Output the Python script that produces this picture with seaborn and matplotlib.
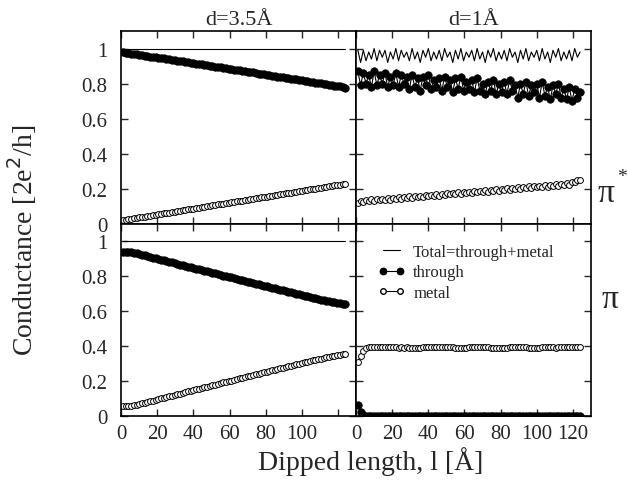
import numpy as np
import pandas as pd
import matplotlib
matplotlib.use("Agg")
import matplotlib.pyplot as plt
from matplotlib.lines import Line2D
import seaborn as sns

# dipped length grid (Angstrom)
x = np.arange(1.0, 124.5, 1.5)

# ---- d = 3.5 A, pi* ----
tl_total = [1.0] * len(x)
tl_through = [0.979, 0.975, 0.972, 0.970, 0.969, 0.966, 0.964, 0.962, 0.959, 0.957,
              0.954, 0.952, 0.950, 0.947, 0.945, 0.943, 0.940, 0.938, 0.935, 0.933,
              0.930, 0.928, 0.926, 0.924, 0.921, 0.919, 0.916, 0.914, 0.912, 0.909,
              0.906, 0.904, 0.902, 0.900, 0.897, 0.894, 0.892, 0.890, 0.887, 0.885,
              0.882, 0.880, 0.878, 0.875, 0.872, 0.870, 0.867, 0.865, 0.863, 0.860,
              0.857, 0.855, 0.853, 0.850, 0.848, 0.845, 0.843, 0.840, 0.838, 0.835,
              0.833, 0.830, 0.828, 0.826, 0.823, 0.820, 0.818, 0.815, 0.813, 0.811,
              0.808, 0.805, 0.803, 0.801, 0.798, 0.795, 0.793, 0.790, 0.788, 0.786,
              0.783, 0.780, 0.777]
tl_metal = [0.020, 0.023, 0.025, 0.028, 0.030, 0.033, 0.035, 0.038, 0.040, 0.043,
            0.045, 0.048, 0.050, 0.053, 0.056, 0.058, 0.061, 0.063, 0.066, 0.068,
            0.071, 0.073, 0.076, 0.078, 0.081, 0.083, 0.086, 0.088, 0.091, 0.094,
            0.096, 0.099, 0.101, 0.104, 0.106, 0.109, 0.111, 0.114, 0.116, 0.119,
            0.121, 0.124, 0.126, 0.129, 0.131, 0.134, 0.137, 0.139, 0.142, 0.144,
            0.147, 0.149, 0.152, 0.154, 0.157, 0.159, 0.162, 0.164, 0.167, 0.169,
            0.172, 0.175, 0.177, 0.180, 0.182, 0.185, 0.187, 0.190, 0.192, 0.195,
            0.197, 0.200, 0.202, 0.205, 0.207, 0.210, 0.212, 0.215, 0.218, 0.220,
            0.222, 0.225, 0.227]

# ---- d = 3.5 A, pi ----
bl_total = [1.0] * len(x)
bl_through = [0.940, 0.939, 0.938, 0.936, 0.933, 0.930, 0.926, 0.922, 0.918, 0.914,
              0.910, 0.906, 0.902, 0.898, 0.894, 0.890, 0.886, 0.882, 0.878, 0.874,
              0.870, 0.866, 0.862, 0.858, 0.854, 0.850, 0.847, 0.843, 0.839, 0.835,
              0.831, 0.827, 0.823, 0.819, 0.815, 0.811, 0.807, 0.803, 0.799, 0.795,
              0.792, 0.788, 0.784, 0.780, 0.776, 0.772, 0.768, 0.765, 0.761, 0.757,
              0.753, 0.749, 0.745, 0.742, 0.738, 0.734, 0.730, 0.726, 0.722, 0.718,
              0.715, 0.711, 0.707, 0.703, 0.700, 0.696, 0.692, 0.688, 0.685, 0.681,
              0.677, 0.673, 0.669, 0.666, 0.662, 0.659, 0.656, 0.653, 0.650, 0.648,
              0.646, 0.643, 0.640]
bl_metal = [0.055, 0.056, 0.057, 0.059, 0.062, 0.065, 0.069, 0.073, 0.077, 0.081,
            0.085, 0.089, 0.093, 0.097, 0.101, 0.105, 0.109, 0.113, 0.117, 0.121,
            0.125, 0.129, 0.133, 0.137, 0.141, 0.145, 0.148, 0.152, 0.156, 0.160,
            0.164, 0.168, 0.172, 0.176, 0.180, 0.184, 0.188, 0.192, 0.196, 0.200,
            0.203, 0.207, 0.211, 0.215, 0.219, 0.223, 0.227, 0.230, 0.234, 0.238,
            0.242, 0.246, 0.250, 0.253, 0.257, 0.261, 0.265, 0.269, 0.273, 0.277,
            0.280, 0.284, 0.288, 0.292, 0.295, 0.299, 0.303, 0.307, 0.310, 0.314,
            0.318, 0.322, 0.326, 0.329, 0.333, 0.336, 0.339, 0.342, 0.345, 0.347,
            0.349, 0.352, 0.355]

# ---- d = 1 A, pi* ----
tr_total = [0.99, 0.92, 0.99, 0.93, 0.98, 0.94, 1.00, 0.93, 0.99, 0.95,
            0.99, 0.92, 0.98, 0.94, 1.00, 0.93, 0.99, 0.95, 0.98, 0.93,
            1.00, 0.94, 0.98, 0.92, 0.99, 0.95, 1.00, 0.93, 0.98, 0.94,
            0.99, 0.93, 1.00, 0.95, 0.98, 0.92, 0.99, 0.94, 1.00, 0.93,
            0.98, 0.95, 0.99, 0.93, 1.00, 0.94, 0.98, 0.92, 0.99, 0.95,
            1.00, 0.93, 0.98, 0.94, 0.99, 0.93, 1.00, 0.95, 0.98, 0.92,
            0.99, 0.94, 1.00, 0.93, 0.98, 0.95, 0.99, 0.93, 1.00, 0.94,
            0.98, 0.92, 0.99, 0.95, 1.00, 0.93, 0.98, 0.94, 0.99, 0.93,
            1.00, 0.95, 0.98]
tr_through = [0.87, 0.79, 0.86, 0.80, 0.85, 0.78, 0.87, 0.79, 0.85, 0.80,
              0.86, 0.78, 0.84, 0.79, 0.86, 0.78, 0.85, 0.80, 0.84, 0.77,
              0.85, 0.78, 0.83, 0.76, 0.84, 0.79, 0.85, 0.77, 0.82, 0.78,
              0.83, 0.76, 0.84, 0.78, 0.82, 0.75, 0.83, 0.77, 0.84, 0.76,
              0.81, 0.77, 0.82, 0.75, 0.83, 0.76, 0.80, 0.74, 0.81, 0.76,
              0.82, 0.74, 0.80, 0.75, 0.81, 0.74, 0.82, 0.76, 0.79, 0.72,
              0.80, 0.74, 0.81, 0.73, 0.79, 0.75, 0.80, 0.72, 0.81, 0.73,
              0.78, 0.71, 0.79, 0.74, 0.80, 0.72, 0.77, 0.71, 0.78, 0.70,
              0.77, 0.72, 0.75]
tr_metal = [0.115, 0.130, 0.125, 0.135, 0.128, 0.138, 0.130, 0.140, 0.132, 0.142,
            0.135, 0.145, 0.137, 0.147, 0.140, 0.150, 0.142, 0.152, 0.145, 0.155,
            0.148, 0.158, 0.150, 0.160, 0.152, 0.162, 0.155, 0.165, 0.158, 0.168,
            0.160, 0.171, 0.163, 0.173, 0.166, 0.176, 0.168, 0.178, 0.170, 0.181,
            0.173, 0.183, 0.176, 0.186, 0.178, 0.188, 0.181, 0.191, 0.183, 0.194,
            0.186, 0.196, 0.188, 0.199, 0.191, 0.201, 0.193, 0.204, 0.196, 0.206,
            0.199, 0.209, 0.201, 0.212, 0.204, 0.214, 0.206, 0.217, 0.209, 0.219,
            0.211, 0.222, 0.214, 0.224, 0.217, 0.227, 0.219, 0.230, 0.222, 0.240,
            0.235, 0.250, 0.248]

# ---- d = 1 A, pi ----
br_through = [0.065, 0.025, 0.008, 0.002] + [0.0] * (len(x) - 4)
br_metal = [0.310, 0.345, 0.370, 0.388, 0.392, 0.393, 0.392, 0.393, 0.392, 0.393,
            0.392, 0.393, 0.392, 0.393, 0.392, 0.391, 0.392, 0.391, 0.392, 0.391,
            0.390, 0.391, 0.390, 0.391, 0.392, 0.393, 0.392, 0.393, 0.394, 0.393,
            0.393, 0.394, 0.393, 0.392, 0.393, 0.392, 0.391, 0.390, 0.389, 0.390,
            0.391, 0.392, 0.393, 0.394, 0.395, 0.396, 0.395, 0.394, 0.393, 0.391,
            0.389, 0.388, 0.387, 0.388, 0.389, 0.391, 0.393, 0.395, 0.396, 0.397,
            0.396, 0.394, 0.392, 0.390, 0.389, 0.388, 0.389, 0.390, 0.392, 0.393,
            0.394, 0.393, 0.392, 0.391, 0.392, 0.393, 0.394, 0.395, 0.394, 0.395,
            0.396, 0.395, 0.396]

y_ticks = [0, 0.2, 0.4, 0.6, 0.8, 1.0]
y_ticklabels = ["0", "0.2", "0.4", "0.6", "0.8", "1"]
x_ticks = [0, 20, 40, 60, 80, 100, 120]
x_ticklabels_left = ["0", "20", "40", "60", "80", "100", ""]
x_ticklabels_right = ["0", "20", "40", "60", "80", "100", "120"]

sns.set_style("ticks")
plt.rcParams["font.family"] = ["Liberation Serif", "DejaVu Serif"]

fig, axes = plt.subplots(2, 2, figsize=(6.28, 4.85), dpi=100)
fig.subplots_adjust(left=0.193, right=0.941, top=0.934, bottom=0.140, wspace=0, hspace=0)


def total_line(ax, y):
    sns.lineplot(x=x, y=y, ax=ax, color="k", lw=0.8, estimator=None, sort=False)


def through_line(ax, y):
    sns.lineplot(x=x, y=y, ax=ax, color="k", lw=0.8, marker="o", markersize=5.4,
                 markerfacecolor="k", markeredgecolor="k", markeredgewidth=0.5,
                 estimator=None, sort=False)


def metal_line(ax, y):
    sns.lineplot(x=x, y=y, ax=ax, color="k", lw=0.8, marker="o", markersize=4.2,
                 markerfacecolor="white", markeredgecolor="k", markeredgewidth=0.7,
                 estimator=None, sort=False)


total_line(axes[0, 0], tl_total)
through_line(axes[0, 0], tl_through)
metal_line(axes[0, 0], tl_metal)

total_line(axes[1, 0], bl_total)
through_line(axes[1, 0], bl_through)
metal_line(axes[1, 0], bl_metal)

total_line(axes[0, 1], tr_total)
through_line(axes[0, 1], tr_through)
metal_line(axes[0, 1], tr_metal)

through_line(axes[1, 1], br_through)
metal_line(axes[1, 1], br_metal)

for i in range(2):
    for j in range(2):
        ax = axes[i, j]
        ax.set_xlim(0, 130)
        ax.set_ylim(0, 1.1)
        ax.set_xticks(x_ticks)
        ax.set_yticks(y_ticks)
        ax.tick_params(direction="in", top=True, right=True, length=5, width=1,
                       labelsize=15)
        ax.tick_params(axis="y", pad=10)
        ax.tick_params(axis="x", pad=6)
        for s in ax.spines.values():
            s.set_linewidth(1.2)
            s.set_color("k")
        ax.set_xlabel("")
        ax.set_ylabel("")
        if j == 0:
            ax.set_yticklabels(y_ticklabels)
        else:
            ax.set_yticklabels([])
        if i == 1:
            ax.set_xticklabels(x_ticklabels_left if j == 0 else x_ticklabels_right)
        else:
            ax.set_xticklabels([])

axes[0, 0].set_title("d=3.5Å", fontsize=16, pad=5)
axes[0, 1].set_title("d=1Å", fontsize=16, pad=5)

handles = [
    Line2D([], [], color="k", lw=0.8),
    Line2D([], [], color="k", lw=0.8, marker="o", markersize=4.6, markerfacecolor="k",
           markeredgecolor="k"),
    Line2D([], [], color="k", lw=0.8, marker="o", markersize=4.0,
           markerfacecolor="white", markeredgecolor="k"),
]
axes[1, 1].legend(handles, ["Total=through+metal", "through", "metal"],
                  loc="upper left", bbox_to_anchor=(0.03, 0.97), frameon=False,
                  fontsize=12, handlelength=1.6, handletextpad=0.5, labelspacing=0.25,
                  numpoints=2)

fig.text(0.035, 0.505, "Conductance [2e$^2$/h]", rotation=90, fontsize=20,
         ha="center", va="center")
fig.text(0.59, 0.048, "Dipped length, l [Å]", fontsize=20, ha="center", va="center")
fig.text(0.952, 0.600, "π", fontsize=24, ha="left", va="center")
fig.text(0.982, 0.635, "*", fontsize=14, ha="left", va="center")
fig.text(0.958, 0.382, "π", fontsize=24, ha="left", va="center")

fig.savefig("out.png", dpi=100)
